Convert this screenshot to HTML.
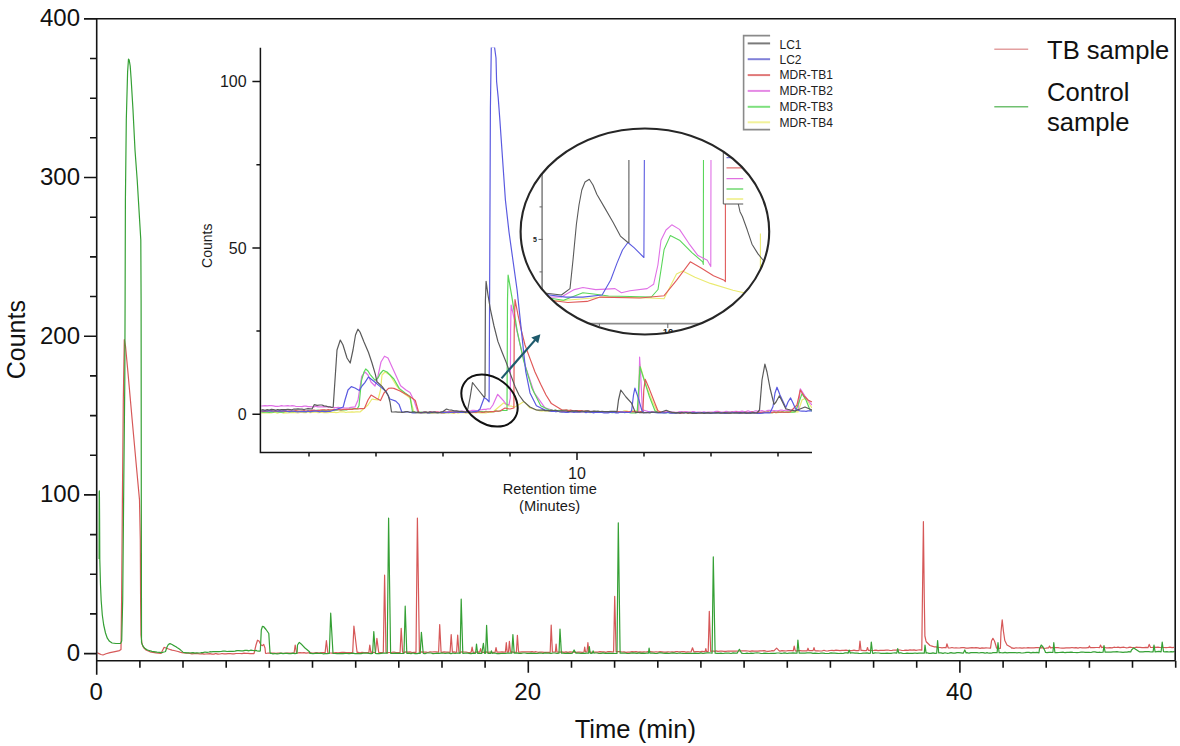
<!DOCTYPE html><html><head><meta charset="utf-8"><style>html,body{margin:0;padding:0;background:#fff;}svg{display:block;}</style></head><body><svg width="1180" height="746" viewBox="0 0 1180 746">
<rect width="1180" height="746" fill="#fff"/>
<defs><clipPath id="mainclip"><rect x="97.5" y="19.6" width="1077" height="640.4"/></clipPath><clipPath id="insclip"><rect x="261.2" y="47.5" width="551" height="404.2"/></clipPath><clipPath id="ellclip"><ellipse cx="644.9" cy="231.5" rx="124.3" ry="103"/></clipPath><clipPath id="innerclip"><rect x="542" y="160" width="240" height="163.5"/></clipPath></defs>
<g clip-path="url(#mainclip)" fill="none" stroke-linejoin="round" stroke-width="1.2">
<polyline stroke="#d65858" points="96.7,652.6 99,653.6 101,654.5 103,655 106,653.8 110,652.6 115,651.6 119.5,650.6 121,649.5 121.6,600 122.4,500 123.3,400 124.3,339.7 125.5,346 128,373 132,418 136,462 139.5,500 140.3,540 140.6,600 141,635 142,644 143.5,647.5 146,650 150,651.8 156,652.8 161,653.4 162,651.5 162.5,650.5 164,647.4 166,648 168,648.8 170,649.5 170.5,649.7 172,650.1 174,650.5 176,651 178,651.5 180,652.1 182,652.6 183.5,653 184,653 186,653.1 188,653.2 190,653.3 192,653.8 194,653.6 196,653.4 198,653.6 200,654 202,653.6 204,654.1 206,654 208,653.8 210,653.7 212,654.2 214,654.1 215,653.7 216,653.6 218,654.1 220,654 222,653.5 224,653.8 226,653.8 228,653.6 230,653.5 232,653.8 234,653.9 236,653.5 238,653.5 240,653.5 242,653.6 244,653.2 246,653.3 248,653.3 250,653.6 252,653.6 254,653.6 254,653.6 256,645 257.5,640.2 259,641 261,645 262.5,645.6 263.7,644.4 265,648 265.5,653.3 266,653.5 268,653 270,653.2 272,653.2 274,653.1 276,653.4 278,653 280,653.1 282,653.4 284,653.4 286,653.2 288,653.1 290,653 292,653.2 294,652.9 294.1,653 295.2,645 296.6,653 298,652.9 300,652.7 302,652.8 304,652.6 306,653.1 308,652.9 310,652.7 312,653.1 314,653 316,652.5 318,652.9 320,652.9 322,652.7 324,652.5 325.1,652.8 326.4,640.7 327.8,652.8 328,652.8 330,653 332,653.1 334,652.8 336,652.6 338,652.8 340,652.5 342,652.3 344,652.3 346,652.7 348,652.6 350,652.6 352,652.7 352.7,652.6 353.9,626.1 357.1,652.5 358,652.3 360,652.8 362,652.3 364,652.6 366,652.7 368,652.6 368.9,652.4 369.8,645 370.9,652.4 372,652.1 374,652.5 375.5,652.4 376.9,638.3 378.7,652.4 380,652.7 382,652.5 383.3,652.3 384.6,575.2 386,652.3 388,652.6 390,652.5 392,652.3 394,652 396,652.5 398,652.5 400,652.5 400.1,652.2 401.2,628.3 402.6,652.2 404,652.3 406,651.9 408,652.1 410,651.9 412,652.5 414,652.4 416,652.4 416,652.2 417.4,518.1 419.4,652.2 420,652.2 422,651.9 424,652.1 426,652.1 428,652.5 430,651.9 432,652 434,651.9 436,651.9 438,652 438.6,652.2 439.7,624.6 441.1,652.2 442,652.4 444,651.9 446,652.2 448,652.2 450,652.4 450.1,652.1 451.2,634.5 452.4,652.1 454,651.8 456,652.3 456.6,652.1 457.7,635 458.9,652.1 460,652.3 462,651.8 464,652 466,652 468,652.5 470,652.3 471.2,652.1 472.1,647.2 473.1,652.1 474,652.4 476,652.2 478,651.9 479.7,652.1 480.6,648.6 481.5,652.1 482,652.4 484,652.4 486,651.9 488,652.3 490,652 492,652.3 494,652.3 495.1,652.1 496,647.5 497,652.1 498,652.1 500,652.1 502,651.9 504,652.2 505.4,652.1 506.3,642.7 507.2,652.1 508,652 508.5,652.1 509.4,641.3 510.5,652.1 512,651.9 514,652.3 516,652.1 516.4,652.1 517.4,635.3 518.6,652.1 520,652.1 522,651.8 524,651.8 526,651.8 528,651.9 530,651.8 532,651.7 534,652.2 536,651.7 538,652.3 540,652.2 542,652.2 544,652.4 546,652.3 548,652.3 550,652.3 550.2,652 551.2,625 552.4,652 554,652 555.4,652 556.1,644.1 556.9,652 558,652.1 560,652.1 562,651.9 564,652.3 566,651.8 568,652.3 570,651.9 572,652.1 574,652.1 576,652.3 578,652.1 580,652.2 582,652.3 584,652 584.7,647.2 585.5,652 586,652 587,652 587.9,642.7 588.9,652 590,652.1 592,652.3 594,652.1 596,652.1 598,652.2 600,651.7 602,651.8 604,651.9 606,652.3 608,651.6 610,651.7 612,651.8 613.6,652 614.7,596.3 616.1,652 618,651.6 620,651.7 622,652 624,651.8 626,652.3 628,652.1 630,652.2 632,651.7 634,651.8 636,651.6 638,652.1 640,651.9 642,652.1 644,651.9 646,652 648,651.6 650,651.7 652,651.8 654,652 656,651.9 658,652 660,651.7 662,651.8 664,652.1 666,652.2 668,651.8 670,652 672,651.8 674,652.1 676,651.5 678,651.7 680,651.8 682,651.7 684,651.6 686,652.1 688,651.9 690,652 691.1,651.8 692.5,647.8 693.9,651.8 694,651.9 696,651.7 698,651.5 700,651.9 702,651.4 704,651.6 705.1,651.6 705.8,648.7 706.5,651.5 708,651.7 708.2,651.5 709.3,611.3 710.7,651.4 712,651.1 714,651.1 715,651.3 716,650.9 718,651.4 720,651.2 722,651.2 724,651.3 726,651.4 728,651 730,651.1 732,651.2 734,651.1 736,651.1 738,651 740,651 742,650.8 744,650.9 746,650.9 748,651 750,651.3 752,650.9 754,651.1 756,651.2 758,651.2 760,650.9 762,650.9 764,650.7 766,651.2 768,651.3 770,651.2 772,650.6 773.9,650.9 776.6,648.1 779.3,650.9 780,651.2 782,650.7 784,650.8 786,651 788,650.6 790,650.7 792,650.6 793.3,650.8 794.2,646.1 795.3,650.8 796,651.1 798,650.7 800,650.7 802,650.9 804,650.9 806,650.9 807.1,650.8 808,648.2 808.9,650.7 810,650.6 812,650.5 813.1,650.7 814,647.6 814.9,650.7 816,650.9 818,650.9 820,651 822,651 824,650.3 826,651 828,650.9 830,650.5 832,650.3 834,650.6 836,650.2 838,650.3 840,650.7 842,650.3 844,650.4 846,650.2 848,650.7 850,650.7 852,650.6 854,650.2 856,650.7 858,650.7 859.1,650.4 860,641 861,650.4 862,650.3 864,650.6 866,650.7 866.6,650.4 867.5,647.5 868.4,650.4 870,650.4 872,650.5 874,650.4 876,650.1 878,650.6 880,650.3 882,650.3 884,650.4 886,650.1 888,650 890,650.5 892,650.3 894,650 896,650.1 898,649.9 900,650 902,650.5 904,650.4 906,650.2 908,650.3 910,649.9 912,650.1 914,649.8 916,650.3 918,650 920,649.8 921.8,650.1 921.8,650 922.4,600 923.4,521.7 924.3,600 924.9,636 926,641 926.5,642.2 926.5,642 928,643.5 930,645.5 932,646.1 934,646.8 936,646.9 938,647.4 940,647.5 942,647.8 944,647.5 945,647.7 946,647.7 946,647.8 946.9,643.8 948.2,647.8 950,648 952,647.5 954,648 956,647.9 958,648 960,647.9 962,647.7 964,647.7 966,648.1 968,648.1 970,647.8 972,647.7 974,647.9 976,647.7 978,647.8 980,648.3 982,647.8 984,648.1 986,647.9 988,648 990,648.1 990.5,648.1 991.5,641 992.9,638.3 994.5,641 996,646 996.5,648.2 998,648.1 1000,648.5 1000.4,648.2 1001,632 1002.2,619.9 1003.4,631 1004.8,640.5 1007,645 1011,647.3 1011.7,648.1 1012,647.9 1014,648.4 1016,647.8 1018,648 1020,647.9 1022,648.2 1024,647.9 1026,648 1028,647.7 1030,647.8 1032,647.9 1034,647.9 1036,647.7 1038,647.6 1040,647.9 1042,647.6 1044,648.3 1046,648.2 1048,647.8 1048.6,647.9 1049.5,646 1050.6,647.9 1052,647.7 1054,647.7 1056,647.6 1058,647.6 1060,648 1062,648.1 1064,648.1 1066,647.9 1068,647.8 1070,647.9 1072,647.5 1074,647.9 1076,647.6 1078,648.1 1080,647.5 1082,647.9 1084,647.8 1086,647.9 1088,647.7 1088.5,647.7 1089.4,646 1090.3,647.7 1092,647.5 1094,647.7 1096,647.5 1098,647.5 1099.6,647.6 1100.5,645 1101.6,647.6 1102,647.4 1104,647.2 1106,647.8 1108,647.8 1110,647.7 1112,647.9 1114,647.2 1116,647.5 1118,647.2 1120,647.7 1122,647.3 1124,647.2 1126,647.8 1128,647.7 1130,647.2 1132,647.5 1134,647.8 1136,647.2 1138,647.4 1140,647.3 1142,647.7 1144,647.7 1146,647.4 1148,647.7 1148.1,647.4 1149.2,644.4 1150.5,647.4 1152,647.5 1154,647.1 1156,647.4 1158,647.2 1160,647.5 1162,647.5 1164,647.5 1166,647.6 1168,647.5 1170,647.1 1172,647.6 1174,647.3"/>
<polyline stroke="#35a035" points="99.1,559 99.2,492 99.4,490.8 99.6,520 99.8,559.5 100.5,585 101.2,600.8 102.3,615 103.7,625 105.5,633 107.3,638.2 109.5,641.3 112.1,643 116,643.5 120.5,643.4 121.7,641 122.7,600 123.8,480 124.8,380 125.1,300 125.4,200 126.3,120 127.6,72 128.5,59 129.2,60 130.2,66 131.2,80 133,110 135,150 137.2,180 139,210 140.8,240 141.1,300 141.3,500 141.5,642.4 143,646.2 145,648.6 147.5,650 152,651.3 157,652.2 162,652.6 163,652.3 165,651.7 165.5,651.5 167,647 168.5,644.3 169,644.1 170,643.6 171,644 172,644.5 173,645.1 175,646.2 176,646.8 177,647.5 179,648.8 180,649.5 181,650.4 183,652.1 183.5,652.5 185,652.6 187,652.8 189,652.9 190,653 191,652.9 193,652.7 195,653.2 197,652.8 199,653 200,653 201,652.7 203,652.6 205,652 207,652.3 209,652 210,651.7 211,651.8 213,651.7 215,651.6 217,651.7 219,651.6 221,651.5 223,651.1 225,651.1 227,651.5 229,651.4 231,651.3 233,651.4 235,651.2 237,650.7 239,650.7 241,650.8 243,650.8 245,650.4 247,650.3 249,650.8 251,650.1 253,650.5 255,650.7 256,650.4 257,650.8 259,651.2 259.8,651.2 260.3,651 261.3,630 262.5,626.3 263.5,626.5 266,629.5 268.8,633.5 269.5,645 270,652.5 270.5,653.5 271,653.3 273,653.9 275,653.5 277,653.8 279,653.6 281,653.2 283,653.7 285,653.3 287,653.4 289,653.7 291,653.6 293,653.2 295,653.6 297,653.2 297,653.5 297.5,645 299.3,642.4 302,644.8 305,648 309.5,651.7 310,653.5 311,653.3 313,653.6 315,653.3 317,653.2 319,653.5 321,653.2 323,653.8 325,653.7 327,653.7 329,653.5 329.3,653.5 330.7,613.2 333,653.5 335,653.5 337,653.7 339,653.7 341,653.7 343,653.7 345,653.4 347,653.5 349,653.6 351,653.4 353,653.1 355,653.6 357,653.5 359,653.6 361,653.7 363,653.2 365,653.2 367,653.2 369,653.3 371,653.6 372.6,653.4 373.8,631.6 375.4,653.4 377,653.6 379,653.6 381,653.3 383,653.2 385,653.2 387,653.1 387.2,653.3 388.6,518.1 390.6,653.3 391,653.5 393,653.4 395,653.2 397,653.4 399,653.4 400,653.2 401,653.5 403,653.4 404,653.3 405.2,606.2 406.8,653.3 407,653.3 409,653.2 411,653.6 413,653 415,653.6 417,653.6 419,653.1 420.2,653.3 421.4,632.3 423.2,653.3 425,653.6 427,653 429,653 431,653 433,653.6 435,653.5 437,653.2 439,653.4 441,653.1 443,653 445,653.5 447,653.2 449,653.1 451,653.6 453,653 455,653.5 457,653 459,653.1 460.1,653.3 461.2,599.1 462.8,653.3 463,653.5 465,653.1 467,653 469,653.3 471,653.6 473,653.1 475,653.5 475.6,653.3 476.5,644 477.6,653.3 479,653.1 481,653.3 481.8,653.3 483.4,643.4 484.5,653.3 485,652.9 485.6,653.3 486.6,625.4 487.9,653.3 489,653.4 490.7,653.3 491.4,650.8 492.1,653.3 493,653.2 495,653 497,653.6 499,653.6 501,653.5 503,653.4 505,653.5 507,653.2 509,653.1 511,653.2 511.8,653.2 512.9,634.6 514.2,653.2 515,653.2 517,652.9 519,653.3 521,653.4 523,653 525,653 527,653.3 529,653.3 531,653.1 533,653.4 535,653.3 537,653.5 539,653.1 541,653 543,653.5 545,652.9 547,653.2 549,653.1 551,653.4 553,653 555,653 557,653.3 559,653.2 559,653.2 560,629 561.4,653.2 563,653.2 565,653.5 567,653.1 569,653.3 571,653.5 572.3,653.2 574.1,650 575.9,653.2 577,653.1 579,653.1 581,653.5 583,653.2 585,653.3 587,653 588.6,653.2 589.3,646.5 590.2,653.2 591,653.3 592.4,653.2 593.1,650.8 593.8,653.2 595,653 597,653 599,653.5 600,653.4 601,653.4 603,652.9 605,653.3 607,653.4 609,653.1 611,653.4 613,653.3 615,653.5 617,653.5 617,653.2 618.3,522.8 620.1,653.2 621,653 623,653.2 625,653 627,653.5 629,653.5 631,653.1 633,652.9 635,653.1 637,653.4 639,652.9 641,653.4 643,653.1 645,653.3 647,653 648.4,653.2 649.1,648.2 649.9,653.2 651,653.1 653,653.2 655,653.4 657,653.5 659,652.9 661,652.9 663,653.2 665,653.4 667,653.2 669,653.5 671,653.2 673,652.9 675,653.1 677,653.5 679,653 681,653.2 683,653.3 685,653.5 687,653.4 689,653.3 691,653.4 693,653.3 695,653.1 697,653.3 699,653.3 701,652.9 703,653.5 705,653.2 707,652.9 709,652.9 711,653 712.1,653.2 713.3,556.9 715.1,653.2 717,653.3 719,653.4 721,653.2 723,653.5 725,653.1 727,653.1 729,653.1 731,653.5 733,652.9 735,653.2 737,653 737.1,653.2 739.4,649.3 741.6,653.2 743,653.4 745,653.5 747,653.1 749,653.5 751,653.1 753,653.4 755,653 757,652.9 759,653 761,653.5 763,653.4 765,653.2 767,653.3 769,653.5 771,653.3 773,653.4 775,653.4 777,653 779,653 781,653.4 783,653.2 785,652.9 787,653.5 789,653.1 791,653.2 793,652.9 795,653.1 797,653.2 797,653.2 797.9,640 799.2,653.2 801,653.2 803,653.1 805,653.1 807,652.9 809,652.9 811,652.9 813,653.4 815,653.2 817,653.3 819,653.5 821,653.2 823,653.2 825,653.4 827,653.5 829,653.3 831,652.9 833,653.1 835,653.2 837,653.3 839,653.5 841,653.3 843,653.5 845,652.9 847,652.9 848.1,653.2 849.2,650 850.3,653.2 851,652.9 853,652.9 855,653.2 857,653.1 859,653.4 861,653.5 863,653.1 865,653.2 867,652.9 869,653.4 870.4,653.2 871.3,642 872.6,653.2 873,653.4 875,652.9 877,653 879,653 881,653.4 883,653.4 885,653.4 887,653.1 889,653.3 891,653.3 893,653 895,652.9 896.8,653.2 897.7,648.7 898.8,653.2 899,653.2 900,652.9 901,652.9 903,653.5 905,653.5 907,653.2 909,653.4 911,653.4 913,653.3 915,653 917,653.4 919,653.2 921,653.2 923,653.2 924.3,653.1 925,645 926.1,653.1 927,652.8 929,653.4 931,653.3 933,652.8 935,653.3 936.7,653.1 937.6,640.5 938.7,653 939,652.7 941,652.9 943,653.4 945,652.7 947,653.3 949,653.2 951,652.7 953,653.2 955,653.1 957,652.7 959,652.7 961,652.8 963,653.1 963.4,652.9 964.8,650 966.1,652.9 967,652.6 969,653.2 971,652.7 973,652.7 975,652.6 977,652.6 979,653 981,652.6 983,652.7 985,653.2 987,652.6 989,653.2 991,653.2 993,652.6 995,652.6 997,652.6 997.1,652.8 998,642.7 999.1,652.8 1000,652.5 1001,652.7 1003,652.8 1005,652.4 1007,652.9 1009,652.6 1011,652.6 1013,652.7 1015,652.5 1017,652.8 1019,652.5 1021,652.8 1023,653 1025,652.7 1027,652.3 1029,652.4 1031,652.9 1033,652.4 1035,652.7 1037,652.4 1039,652.8 1039,652.6 1039.5,649 1041.2,645 1043,647 1045,651 1045.5,652.5 1047,652.6 1049,652.3 1051,652.4 1052.9,652.5 1053.8,642.7 1054.9,652.5 1055,652.7 1057,652.6 1059,652.5 1061,652.3 1063,652.1 1065,652.7 1067,652.4 1069,652.3 1071,652.2 1073,652.4 1075,652.5 1077,652.6 1079,652.5 1081,652.2 1083,652 1085,652.3 1087,652.3 1089,652.3 1091,652.5 1093,651.9 1095,651.9 1097,652.4 1099,652.4 1100,652.2 1101,652.5 1103,652.2 1103.1,652.2 1104,645.6 1105.1,652.2 1107,652.1 1109,652.2 1111,652.1 1113,651.8 1115,651.9 1117,651.7 1119,652 1121,652.1 1123,652.4 1125,652.1 1127,652.1 1129,651.6 1130.7,652 1131.5,650 1133.7,647.9 1136,649.5 1139,651.5 1139.5,651.9 1141,651.8 1143,651.9 1145,651.7 1147,651.6 1149,651.6 1151,652 1153,651.7 1153.1,651.8 1154,645 1155.1,651.8 1157,651.6 1159,651.4 1161,651.9 1161.1,651.7 1162.2,642.2 1163.5,651.7 1165,651.8 1167,651.7 1169,652 1171,651.6 1173,651.8 1175,651.4"/>
</g>
<g stroke="#141414" stroke-width="1.6" fill="none">
<path d="M96.7 18.8V674.7M84 18.8H1175.2V660.8M96.7 660.8H1175.2"/>
<path d="M84 653.6H96.7M90 613.9H96.7M90 574.2H96.7M90 534.6H96.7M84 494.9H96.7M90 455.2H96.7M90 415.6H96.7M90 375.9H96.7M84 336.2H96.7M90 296.5H96.7M90 256.9H96.7M90 217.2H96.7M84 177.5H96.7M90 137.8H96.7M90 98.2H96.7M90 58.5H96.7M84 18.8H96.7M139.9 660.8V667.8M183 660.8V667.8M226.2 660.8V667.8M269.3 660.8V667.8M312.5 660.8V667.8M355.7 660.8V667.8M398.8 660.8V667.8M442 660.8V667.8M485.1 660.8V667.8M528.3 660.8V672.8M571.5 660.8V667.8M614.6 660.8V667.8M657.8 660.8V667.8M700.9 660.8V667.8M744.1 660.8V667.8M787.3 660.8V667.8M830.4 660.8V667.8M873.6 660.8V667.8M916.7 660.8V667.8M959.9 660.8V672.8M1003.1 660.8V667.8M1046.2 660.8V667.8M1089.4 660.8V667.8M1132.5 660.8V667.8M1175.7 660.8V667.8"/>
</g>
<g font-family='"Liberation Sans", sans-serif' font-size="24" fill="#111">
<text x="80" y="26.2" text-anchor="end">400</text>
<text x="80" y="184.9" text-anchor="end">300</text>
<text x="80" y="343.6" text-anchor="end">200</text>
<text x="80" y="502.3" text-anchor="end">100</text>
<text x="80" y="661" text-anchor="end">0</text>
<text x="96.1" y="700.2" text-anchor="middle">0</text>
<text x="527.7" y="700.2" text-anchor="middle">20</text>
<text x="959.3" y="700.2" text-anchor="middle">40</text>
</g>
<text x="635.3" y="738.2" text-anchor="middle" font-family='"Liberation Sans", sans-serif' font-size="25.6" fill="#111">Time (min)</text>
<text transform="translate(24.5 339.7) rotate(-90)" text-anchor="middle" font-family='"Liberation Sans", sans-serif' font-size="25" fill="#111">Counts</text>
<path d="M994.3 49.3H1028.2" stroke="#e3a0a0" stroke-width="1.6"/>
<path d="M994.3 106.8H1028.2" stroke="#70c070" stroke-width="1.6"/>
<g font-family='"Liberation Sans", sans-serif' font-size="25.6" fill="#111"><text x="1047" y="58.6">TB sample</text><text x="1047" y="100.8">Control</text><text x="1047" y="130.6">sample</text></g>
<g clip-path="url(#insclip)" fill="none" stroke-linejoin="round" stroke-width="1.2">
<polyline stroke="#eaea70" points="261,413 263.1,412.7 265.1,413 267.2,412.8 269.2,413 271.3,413 273.3,412.5 275.4,412.4 277.4,413.1 279.5,412.5 281.5,412.5 283.6,413.2 285.6,412.7 287.7,413 289.7,412.6 291.8,412.7 293.8,412.3 295.9,412.7 297.9,412.9 300,412.5 302,412.5 304,412.7 306,412.6 308,412 310,412.6 312,412.5 314,412.2 316,411.9 318,412.7 320,412.3 322,412.5 324,412.6 326,412.5 328,412.6 330,412.2 332,412.5 334,412.2 336,412.6 338,412.5 340,411.8 342,411.8 344,411.9 346,412.5 348,412 350,412.2 352,411.9 354,412.1 356,411.9 358,411.9 360,412 368,405 372,399 374,399.4 376,399.7 378,400 380.5,390 382,375 385,372 390,375 396,385 402,392 410,398 414,412.5 416,412.9 418,412.7 420,413 422,413 424,413.1 426,412.9 428,412.5 430,413.1 432,413.3 434,413.2 436,413 438,413.2 440,413 442,412.7 444,413.3 446,413 448,412.7 450,412.5 452,413.2 454,413.3 456,412.5 458,413.1 460,412.7 462,412.5 464,412.6 466,413 468,413.1 470,412.3 472,412.8 474,412.3 476,412.8 478,412.5 480,412.9 482,413 484,412.6 486,413 488,412.3 490,412.5 492.9,412 500,406 503.6,402.9 509,406 511.6,406.2 514.3,407.2 520,404 524,401.5 530,408 540,411 542,411.1 544,410.7 546,410.9 548,411.1 550,411.3 552,411 554,410.9 556,411.7 558,411.3 560,411.9 562,411.9 564,411.5 566,411.6 568,411.7 570,411.9 572,411.9 574,411.9 576,412 578,412.3 580,412 582,412 584,412.3 586,411.9 588,412 590,412.7 592,412.3 594,412.4 596,412 598,412.4 600,412.5 602,412.5 604,411.9 606,412.3 608,412.2 610.1,411.6 612.1,412 614.1,411.8 616.1,411.9 618.1,411.5 620.1,411.7 622.1,411.7 624.1,410.9 626.1,410.9 628.1,411.3 630.2,411.5 632.2,410.8 634.2,410.9 636.2,410.9 638.2,410.7 639.6,363.8 645.7,384.4 652.3,401.3 657,410.7 660,412.5 662,412.4 664,412.4 666,412.4 668,412.5 670,412.7 672,412.5 674,412.6 676,412.9 678,412.3 680,412.8 682,413 684,412.6 686,412.6 688,413.1 690,412.6 692,412.6 694,412.9 696,413.1 698,412.6 700,413 702,412.8 704,412.8 706,413.2 708,412.9 710,413.2 712,412.6 714,412.7 716,413 718,413.2 720,412.8 722,412.5 724,412.4 726,412.8 728,412.4 730,413 732,413 734,412.4 736,412.4 738,412.9 740,412.7 742,412.8 744,412.4 746,412.2 748,412.3 750,412.8 752,412.3 754,412.3 756,412.4 758,412.3 760,412.3 762,412.7 764,412 766,411.9 768,412.7 770,412.6 772,412.7 774,412.2 776,412.6 778,412.6 780,411.9 782,412.4 784,412.4 786,412.3 788,412.1 790,411.9 792,411.9 794,411.8 796,411.6 798,412 802,400 806,398 810,405 812,408"/>
<polyline stroke="#e070e6" points="261,406 263.1,405.8 265.1,405.6 267.2,405.9 269.3,405.7 271.4,405.6 273.4,405.9 275.5,406.4 277.6,406.3 279.6,406.2 281.7,405.7 283.8,406 285.9,405.8 287.9,405.7 290,406 292,405.7 294,405.8 296,406.5 298,406.5 300,406.5 302,406.6 304,406.1 306,406.2 308,406.6 310,406.7 312,406.9 314,406.9 316,406.3 318,406.8 320,406.9 322,406.8 324,406.6 326,406.9 328,406.6 330,407 332.1,407.5 334.3,407.6 336.4,407.5 338.6,407.4 340.7,408.1 342.9,407.9 345,408 347,408.1 349,407.9 351,407.4 353,407.1 355,407 358,400 361.7,376.3 365,372 368,375 371,382 375,386 378,376 381,362 384.5,356.2 388,358 393.9,371 400.6,385.7 406,390 410,392.4 414,400.5 418,412.5 420,412.5 422,412.3 424,412.1 426,412.1 428,412.6 430,411.8 432,411.8 434,412.3 436,411.9 438,412.1 440,412 442,411.9 444,411.7 446,412.2 448,411.5 450,411.6 452,411.3 454,411.7 456,411.3 458,411.3 460,411.6 462,411.1 464,411.3 466,411.5 468,410.7 470,411 472,410.4 474,410.4 476,410.6 478,410.3 480,409.8 482,409.6 484,409.3 486,409.4 488,408.8 490,409 492.9,405 497.7,394.3 501,398 503.6,400.8 506,404 509,405 510.3,398 510.6,330 511.1,305 515,322 519.3,341.4 525.7,367.1 534.3,392.9 545,407.8 555,411 557,411.2 559.1,411.4 561.1,411.5 563.2,411.4 565.2,411.6 567.3,410.8 569.3,411.1 571.4,411.8 573.4,411.7 575.5,411.4 577.5,411.9 579.5,411.7 581.6,411.9 583.6,411.5 585.7,411.4 587.7,411.7 589.8,411.4 591.8,411.7 593.9,412.3 595.9,411.8 598,411.5 600,412 602,411.6 604.1,411.7 606.1,412.3 608.2,411.9 610.2,411.8 612.3,411.6 614.3,412.4 616.3,411.9 618.4,411.7 620.4,411.6 622.5,411.6 624.5,411.7 626.5,412.2 628.6,411.7 630.6,411.6 632.7,412 634.7,411.8 636.8,412.4 638.8,412 639.6,357.2 640.4,370 642.4,409.8 650,412 652,411.7 654,412 656,412.2 658,411.9 660,412.4 662,412 664,411.8 666,411.9 668,411.6 670,411.9 672,411.8 674,412.4 676,412.3 678,412 680,411.6 682,411.8 684,411.8 686,411.7 688,411.8 690,412.3 692,411.7 694,411.6 696,412.4 698,412.1 700,412 702,412.4 704,411.8 706,412.3 708,412 710,412.1 712,412 714,411.8 716,411.4 718,411.4 720,412 722,412 724,412 726,411.4 728,411.7 730,411.8 732,411.6 734,411.7 736,411.4 738,411.5 740,411.5 742,411.1 744,411.6 746,411.6 748,410.8 750,411.6 752,411.5 754,411.3 756,410.7 758,411.4 760,411 762,410.6 764,411.3 766,411 768,410.4 770,410.4 772,410.8 774,410.7 776,410.8 778,410.9 780,410.2 782,410 784,410.7 786,409.9 788,410.6 790,409.9 792,410.4 794,410.4 796,410.4 798,410 800.3,388.8 805,396 810.5,403.3 812,405"/>
<polyline stroke="#5ad65a" points="261,412 263.1,412.1 265.1,412.2 267.2,412.2 269.2,412.3 271.3,412.1 273.3,412.2 275.4,411.4 277.4,411.8 279.5,412.2 281.5,411.9 283.6,412.1 285.6,411.3 287.7,411.6 289.7,411.4 291.8,411.6 293.8,411.6 295.9,411.1 297.9,411.3 300,411.5 302,411.2 304.1,411.7 306.1,411.5 308.2,410.8 310.2,411.3 312.3,410.6 314.3,411 316.3,410.4 318.4,410.2 320.4,410.9 322.5,410.3 324.5,410.2 326.6,410.8 328.6,410.6 330.6,410 332.7,410.5 334.7,410 336.8,410.1 338.8,409.5 340.9,410.1 342.9,409.8 344.9,410 347,409.8 349,409.2 351.1,409.1 353.1,408.9 355.2,408.8 357.2,409 359,405.8 361.4,380.8 364,372 365.7,369 368,371 370,374.3 375.1,380.3 378,378 380,374 383.1,370.3 387,372 393.9,379 399.2,388.4 405,393 410,396.4 412.6,412.5 414.7,412.1 416.8,412.3 418.9,412.6 421,412.1 423.1,412.7 425.2,412.4 427.4,412.3 429.5,412.8 431.6,412.5 433.7,412.3 435.8,412.5 437.9,412.7 440,412.5 442,412.1 444,412.9 446,412 448,412.6 450,412.6 452,411.9 454,412.5 456,412.1 458,412.3 460,411.7 462,411.7 464,411.8 466,412.5 468,411.8 470,412 472,412.2 474,412.3 476,412.2 478,411.7 480,411.6 482,411.7 484,411.9 486,411.2 488,411.8 490,411.5 492,411.7 494,411.6 496,410.8 498,411.5 500,411 502.3,410.5 504.7,410.5 507,410.5 507.5,300 508.1,275 511.8,296.4 517.1,330.7 523.6,360.7 532.1,388.6 540.7,405.7 549.3,410 551.3,410.2 553.4,410.5 555.4,410.1 557.4,410.7 559.4,410.4 561.5,410.3 563.5,410.4 565.5,410.3 567.6,410.3 569.6,410.5 571.6,411.1 573.6,411.4 575.7,410.7 577.7,410.7 579.7,411.6 581.7,411.3 583.8,411.3 585.8,411.2 587.8,411.6 589.9,411.9 591.9,411.6 593.9,411.7 595.9,411.4 598,412.3 600,412 602.1,411.6 604.1,412.1 606.2,412.4 608.3,411.8 610.3,412.4 612.4,412.6 614.5,412.4 616.5,412.5 618.6,411.9 620.7,412.3 622.7,412.1 624.8,412.7 626.9,412.2 628.9,412.4 631,412.9 633.1,412.9 635.1,413 637.2,412.6 640,366.6 642.9,376 649.4,396.6 655,410.7 658,412.5 660,412.5 662,412.5 664,412.8 666,412.6 668,412.4 670,412.6 672,412.3 674,412.6 676,413.2 678,413.2 680,412.9 682,412.8 684,412.7 686,412.5 688,412.7 690,413.1 692,413.2 694,412.8 696,413.2 698,413.2 700,413 702,413.2 704,413.1 706.1,413.2 708.1,412.8 710.1,413.1 712.1,412.7 714.1,412.8 716.2,413.1 718.2,413 720.2,412.6 722.2,413.2 724.3,412.9 726.3,412.8 728.3,412.3 730.3,412.7 732.3,412.4 734.4,412.8 736.4,412.6 738.4,412.9 740.4,412.7 742.4,412.8 744.5,412.4 746.5,412.6 748.5,412.7 750.5,412.8 752.6,412.3 754.6,412.7 756.6,412.7 758.6,412.6 760.6,412.8 762.7,412.8 764.7,412.3 766.7,412.3 768.7,412 770.7,412.6 772.8,412.6 774.8,412.2 776.8,412.4 778.8,412.4 780.9,412.4 782.9,411.8 784.9,412.4 786.9,412.2 788.9,412.2 791,412 793,412.1 795,412 798,405 802,393.6 806,400 810,410 812,411"/>
<polyline stroke="#e05a5a" points="261,411 263.1,411.3 265.1,411.3 267.2,411 269.2,410.8 271.3,410.6 273.3,411.1 275.4,411 277.4,411.2 279.5,410.9 281.5,411.2 283.6,410.8 285.6,411.3 287.7,411.2 289.7,410.9 291.8,411 293.8,411.2 295.9,410.7 297.9,411 300,411 302,411.2 304,410.6 306,411 308.1,410.9 310.1,410.9 312.1,410.4 314.1,410.1 316.1,410.6 318.1,410.6 320.1,410.2 322.1,409.8 324.1,409.8 326.2,410.1 328.2,409.7 330.2,410.2 332.2,409.8 334.2,409.4 336.2,409.7 338.2,409.4 340.2,409.8 342.3,409.7 344.3,409.3 346.3,409.3 348.3,409.3 350.3,409.3 352.3,409.4 354.3,408.5 356.3,408.7 358.4,408.8 360.4,408.5 362.4,408.7 364.4,408.5 368,400 371.1,395.1 376,398 380.5,400.5 384,393 388.5,388.4 391.2,388 393.9,388.4 400,391 407.3,395.1 412,398 415.3,400.5 418.7,412.5 420.8,412.8 423,412.5 425.1,412.2 427.2,412.6 429.4,412.3 431.5,412.2 433.6,412.5 435.7,412.2 437.9,412.2 440,412.5 442,412.8 444,412.6 446,412 448,412.7 450,411.9 452,412.2 454,412.7 456,412.4 458,412.1 460,412.1 462,412.1 464,411.9 466,412.6 468,411.7 470,412.1 472,412.3 474,412 476,412.5 478,411.8 480,412 482,412.3 484,412.2 486,411.9 488,412 490,411.5 492,411.7 494,411.6 496,411.2 498,411.1 500,411 505,408 507.5,408.7 510,409 513.9,408 514.2,330 515,299.6 518,315 521.4,330.7 525,345 530,358.6 535,372 540.7,384.3 546,395 551.4,403.6 562.1,410 564.2,410 566.3,409.8 568.4,410.6 570.5,410.2 572.6,410.5 574.7,410.9 576.8,410.5 578.9,410.5 581,410.7 583.2,411.2 585.3,411.1 587.4,411.1 589.5,411.4 591.6,411.9 593.7,411.4 595.8,411.7 597.9,412.2 600,412 602,412.1 604.1,411.8 606.1,411.9 608.2,411.9 610.2,411.6 612.3,411.8 614.3,411.7 616.3,412.2 618.4,411.7 620.4,412 622.5,412.3 624.5,412.2 626.6,411.7 628.6,411.9 630.6,411.6 632.7,411.7 634.7,411.7 636.8,412 638.8,412.1 640.9,411.5 642.9,411.7 643.8,390 645.2,379.3 649.4,389.1 654.1,401.3 657.9,410.7 662,412.5 664,412.1 666,412.5 668,412.2 670,412.2 672,412.9 674,412.3 676,412.9 678,412.6 680,413.1 682,413.1 684,412.4 686,412.5 688,413.2 690,413 692,412.8 694,413.2 696,413.2 698,413 700,413 702,412.9 704,412.6 706,412.8 708,412.6 710,413 712,413 714,412.5 716,412.9 718,412.4 720,412.4 722,412.9 724,412.7 726,413.1 728,412.8 730,412.8 732,412.3 734,412.9 736,412.2 738,412.7 740,412.9 742,412.9 744,412.9 746,412.4 748,412.6 750,412.7 752,412.1 754,412.8 756,412.7 758,412.3 760,412.6 762,412.3 764,412.1 766,412.5 768,411.9 770,412.5 772,412.6 774,412 776,412.6 778,411.8 780,412.4 782,411.9 784,412.5 786,412 788,412.4 790,412 797,405 800.3,390 804,396 808,400 812,402"/>
<polyline stroke="#5a5ae0" points="261,411 263.1,410.9 265.1,410.7 267.2,411.2 269.2,410.7 271.3,411.2 273.3,411 275.4,410.8 277.4,411.2 279.5,410.8 281.5,411.2 283.6,410.9 285.6,410.9 287.7,411.3 289.7,411.7 291.8,411.1 293.8,411.2 295.9,411.6 297.9,411.9 300,411.5 302,411.6 304,411.4 306,411.9 308,411.1 310,411.8 312,411.3 314,411.2 316,411.2 318,411.3 320,411.8 322,411.2 324,411.6 326,411.6 328,411.4 330,411.5 343.2,407 345,400 348,390 351.3,386.6 355,388 359.3,390.4 362,386 364.7,382.9 368.4,377 373.2,380.8 379.7,386.1 386.1,391.5 389.9,399 395.8,401.1 399,404.3 401.7,411.8 404,412 406.2,411.8 408.5,412 410.7,412.3 413,412.8 415.1,412.9 417.2,412.7 419.2,412.6 421.3,412.8 423.4,412.6 425.5,412.5 427.5,412.9 429.6,412.8 431.7,412.4 433.8,412.6 435.8,412.6 437.9,412.9 440,412.5 442,412.7 444,412.2 446,412.8 448,412 450,412.3 452,412.5 454,412 456,412.2 458,411.8 460,412.3 462,412.4 464,412.2 466,412.4 468,411.9 470,412 472,411.9 474,411.6 476,411.3 478,411 480,409 484.3,397.5 487,399.5 489.1,401.8 489.6,300 490.4,108 491.3,47 494.5,47 496,58 496.6,81.5 498.2,97.6 499.8,119 505.4,200 509,232 512.9,260 517.1,290 521.4,330.7 525.7,371.4 530,392.9 536.4,405.7 545,410 547.1,410.2 549.3,410.9 551.4,411.3 553.6,411.1 555.7,411.6 557.9,411.3 560,412 562,412.2 564,412.2 566,412.5 568,412.4 570,411.9 572,412 574,412.3 576,411.8 578,412.2 580,412 582,411.9 584,411.9 586,412.6 588,412 590,412.1 592,412.3 594,412.8 596,412.1 598,412.4 600,412.5 602,412.5 604,412.8 606,412.8 608,412.8 610,412.3 612,412.4 614,412.4 616,412.8 618,412.9 620,412.2 622,412.2 624,412.3 626,412.3 628,412.5 630,412.5 631.6,410.7 633.5,395 634.9,388.2 638.2,397.6 641.9,410.7 644,412.5 646,412.6 648,412.3 650,412.1 652,412.5 654,412.5 656,412.7 658,413 660,412.8 662,412.7 664,412.8 666,412.9 668,412.3 670,413.1 672,413 674,413.1 676,413.1 678,412.7 680,412.7 682,412.5 684,413 686,412.5 688,412.5 690,412.6 692,412.6 694,412.8 696,412.6 698,412.5 700,413 702,412.7 704,412.6 706,412.9 708,412.6 710,413.3 712,413.1 714,412.7 716,412.8 718,412.9 720,412.9 722,412.7 724,413.3 726,413.4 728,413 730,413 732,412.6 734,412.6 736,412.9 738,412.8 740,413.3 742,412.7 744,412.6 746,413.4 748,413 750,412.7 752,413 754,412.6 756,413 758,413.4 760,413.3 762,413.2 764,412.8 766,412.9 768,412.7 770,413 773,406.5 775,393 777,387.2 780,395 785.8,407.6 788,402 790.6,397.9 793,403 795.5,408.7 800,411 802,411.2 804,411 806,411.3 808,410.8 810,410.8 812,411"/>
<polyline stroke="#5a5a5a" points="261,410 263.1,409.7 265.1,410.3 267.2,409.6 269.3,410 271.4,409.4 273.4,409.6 275.5,410.2 277.6,409.5 279.6,409.8 281.7,409.6 283.8,409.6 285.9,409.6 287.9,409.3 290,409.5 292,409.8 294,409 296,409.1 298,408.9 300,409.1 302,409.1 304,409.5 306,409 308,408.7 310,408.8 312,409 314.2,404.7 317.1,405.3 320,405 322,405 324,405.9 326,406.1 328,406.8 330,406.9 332,407.5 333.2,407 335,380 337,350 340.3,340 343,345 347,358 350.2,363 353,350 355.5,335 357.9,329.2 360,332 364,342 368.5,352.5 372,363 375.3,374.2 377,381.8 382,386.4 385,390.4 388.3,395.8 390,402 391.5,411.8 393.6,412 395.8,411.9 397.9,412.1 400,412 402,412.4 404,412.1 406,411.7 408,411.7 410,412.5 412,412.1 414,411.8 416,412.5 418,412.2 420,412.4 422,412.5 424,412 426,412.1 428,412.6 430,411.9 432,412.5 434,411.9 436,412.4 438,412.5 440,412.3 443,411.5 446.5,409 449.2,410 452,410.2 454.3,410.9 456.7,410.9 459,411.3 461.2,411.4 463.3,411.7 465.5,412.3 467.7,409.5 470,398 472.5,382.5 476,387 480,392 484.3,397.3 485,396 485.4,300 486.1,281.4 488,295 490.4,309.3 494,326 497.9,341.4 502,352 506.4,362.9 510,373 515,386.4 519,395 523.6,401.4 530,407 536.4,410 538.5,410.1 540.7,410.2 542.8,409.9 545,410.7 547.1,410.5 549.3,410.7 551.4,410.4 553.6,410.5 555.7,410.4 557.9,410.8 560,411 562,410.8 564,411 566,411 568,411.4 570,411.5 572,410.9 574,411.1 576,410.9 578,411.4 580,411.7 582,411 584,411.5 586,411.1 588,410.9 590,411.6 592,411.3 594,411.1 596,411.4 598,411.2 600,411.5 602.1,411.4 604.2,411.5 606.4,411.5 608.5,411.7 610.6,411.4 612.8,411.3 614.9,411.3 617,411.7 618.5,400 620.8,390 626,397 631.6,403.2 635.4,412.6 637.4,412.2 639.5,412.6 641.5,412.4 643.6,412.8 645.6,412.6 647.7,412.7 649.8,413 651.8,412.1 653.9,412.1 655.9,412.2 658,412.4 660,412.5 666.2,410.3 672,412.5 674,412.6 676,412.8 678,412.5 680,413.1 682,412.2 684,413 686,412.5 688,413.1 690,412.4 692,413.3 694,413.1 696,413.4 698,413 700,413 702,412.7 704.1,413.4 706.1,412.9 708.1,412.6 710.2,413.1 712.2,413 714.2,413 716.3,412.7 718.3,412.7 720.4,413.1 722.4,413 724.4,412.7 726.5,412.9 728.5,413.2 730.5,413.2 732.6,413 734.6,412.9 736.6,412.9 738.7,412.8 740.7,412.7 742.8,413 744.8,412.6 746.8,413.2 748.9,413.2 750.9,413.1 752.9,412.6 755,412.9 757,413 759.5,410 762,380 764.9,364.1 767,372 770,388 774,404.4 776,402 779.4,395.8 782,401 785.8,408.7 790,410 792.5,410.4 795,411 800,409 805,407 812,410"/>
</g>
<g stroke="#141414" stroke-width="1.5" fill="none">
<path d="M260.4 47.7V452.5H812M252.4 414.3H260.4M256.4 331.1H260.4M252.4 247.9H260.4M256.4 164.7H260.4M252.4 81.5H260.4M309 452.5V456.6M376 452.5V456.6M443 452.5V456.6M510 452.5V456.6M577 452.5V460M644 452.5V456.6M711 452.5V456.6M778 452.5V456.6"/>
</g>
<g font-family='"Liberation Sans", sans-serif' font-size="16" fill="#1a1a1a" text-anchor="end"><text x="246.6" y="87.3">100</text><text x="246.6" y="253.8">50</text><text x="246.6" y="420">0</text></g>
<text x="577" y="478.8" text-anchor="middle" font-family='"Liberation Sans", sans-serif' font-size="16" fill="#1a1a1a">10</text>
<text x="549.8" y="493.6" text-anchor="middle" font-family='"Liberation Sans", sans-serif' font-size="14" fill="#1a1a1a" textLength="94" lengthAdjust="spacingAndGlyphs">Retention time</text>
<text x="549.6" y="511.2" text-anchor="middle" font-family='"Liberation Sans", sans-serif' font-size="14" fill="#1a1a1a" textLength="61" lengthAdjust="spacingAndGlyphs">(Minutes)</text>
<text transform="translate(212 245.8) rotate(-90)" text-anchor="middle" font-family='"Liberation Sans", sans-serif' font-size="14" fill="#1a1a1a">Counts</text>
<path d="M770.1 35.6H743.6V129.6H770.1" stroke="#8a8a8a" stroke-width="1.6" fill="none"/>
<path d="M747.7 43.4H770.1" stroke="#7a7a7a" stroke-width="2"/>
<path d="M747.7 59.2H770.1" stroke="#8080d8" stroke-width="2"/>
<path d="M747.7 75.1H770.1" stroke="#e07878" stroke-width="2"/>
<path d="M747.7 90.9H770.1" stroke="#e58ae5" stroke-width="2"/>
<path d="M747.7 106.8H770.1" stroke="#7ee07e" stroke-width="2"/>
<path d="M747.7 122.3H770.1" stroke="#f2f29a" stroke-width="2"/>
<g font-family='"Liberation Sans", sans-serif' font-size="12" fill="#222">
<text x="779.5" y="48.6">LC1</text>
<text x="779.5" y="63.6">LC2</text>
<text x="779.5" y="79.4">MDR-TB1</text>
<text x="779.5" y="95.2">MDR-TB2</text>
<text x="779.5" y="111">MDR-TB3</text>
<text x="779.5" y="126.8">MDR-TB4</text>
</g>
<ellipse cx="489.5" cy="400.6" rx="30.7" ry="22.9" transform="rotate(37 489.5 400.6)" fill="none" stroke="#111" stroke-width="2"/>
<path d="M501.5 378.4L535.2 339.9" stroke="#1e5a6c" stroke-width="2.2"/>
<polygon points="540.4,334.2 538.2,343.2 531.3,337.4" fill="#1e5a6c"/>
<ellipse cx="644.9" cy="231.5" rx="124.3" ry="103" fill="#fff"/>
<g clip-path="url(#ellclip)">
<g clip-path="url(#innerclip)" fill="none" stroke-linejoin="round" stroke-width="1.1">
<polyline stroke="#eaea70" points="545,302 604.3,297 650,298 664,298.8 676.5,274.1 682.6,271 695,277.2 710.4,283.4 733,290.2 745,293 755,295 759,290 760.4,268.8 760.4,233.4"/>
<polyline stroke="#5ad65a" points="542,297 563.6,300.3 582.9,292.8 593.6,294 608.6,296 651.4,297 658,289.5 664.1,249.5 670.3,235.6 679.5,240.2 691.9,252.6 702.7,261.8 703.3,264.5 703.5,150"/>
<polyline stroke="#e070e6" points="542,297.1 561.4,297 574.3,289.6 582.9,287.5 595.7,289.6 615,288.6 621.4,292.8 630,290.7 647.1,288.6 653.6,284.3 657.9,265 661,240.2 666,230 671.8,224.8 679.5,229.4 688.8,243.3 698,255.6 707.3,260.3 710.8,266.6 711,150"/>
<polyline stroke="#e05a5a" points="542,299.3 567.9,302.5 587.1,301.4 600,297.1 640,298 664.1,295.7 676.5,280.3 690.3,261.8 701.1,268 713.5,275.7 724.2,280.3 725.4,281.7 725.4,204"/>
<polyline stroke="#5a5ae0" points="542,294 565.7,297.1 582.9,297.1 602.1,295 610.7,280 617.1,262.9 622.5,250 627.9,242.5 634.3,247.9 643.9,257.5 644.4,150"/>
<polyline stroke="#5a5a5a" points="542,292.8 561.4,295 570,288.6 573,260 576.4,224.3 579,205 581.8,190 585,182 589.3,179.3 593,185 596.8,194.3 604.3,207.1 612.9,222.1 620.4,236.1 627.9,242.5 628.9,242.5 628.9,150"/>
<polyline stroke="#5a5a5a" points="730,150 738.3,204 740,211.7 742.4,216.5 747.2,229.8 752,244.2 758,253.9 763,260 772,268"/>
</g>
<path d="M542.1 170V323.7H720" stroke="#8c8c8c" stroke-width="1.7" fill="none"/>
<path d="M539.5 206.9H542.1M538.5 239.4H543M539.5 271.9H542.1M599.4 323.7V326M667.8 323.7V328" stroke="#666" stroke-width="1" fill="none"/>
<text x="537" y="241.5" text-anchor="end" font-family='"Liberation Sans", sans-serif' font-size="7" font-weight="bold" fill="#222">5</text>
<text x="668" y="335.4" text-anchor="middle" font-family='"Liberation Sans", sans-serif' font-size="9.5" font-weight="bold" fill="#222">10</text>
<rect x="723.3" y="140" width="80" height="64" fill="#fff"/>
<path d="M723.3 140V204H743.2" stroke="#555" stroke-width="1" fill="none"/>
<path d="M726.5 157.6H743.2" stroke="#7070d0" stroke-width="1.4"/>
<path d="M726.5 167.9H743.2" stroke="#e07070" stroke-width="1.4"/>
<path d="M726.5 178.6H743.2" stroke="#e070e0" stroke-width="1.4"/>
<path d="M726.5 189H743.2" stroke="#70d870" stroke-width="1.4"/>
<path d="M726.5 199H743.2" stroke="#eeee80" stroke-width="1.4"/>
</g>
<ellipse cx="644.9" cy="231.5" rx="124.3" ry="103" fill="none" stroke="#262626" stroke-width="2.1"/>
</svg></body></html>
